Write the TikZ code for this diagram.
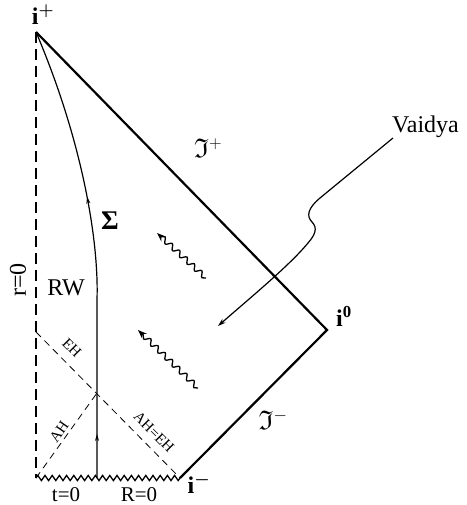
\documentclass[tikz,border=0pt]{standalone}
\usepackage{amsmath,amssymb}
\usepackage{fontspec}
\setmainfont{Liberation Serif}
\usetikzlibrary{arrows.meta,decorations.pathmorphing,decorations.markings}

\begin{document}
\begin{tikzpicture}[x=1pt,y=-1pt,>=Stealth,
   scri/.style={line width=2.2pt,line join=miter},
   wl/.style={line width=1.2pt},
   hz/.style={line width=0.8pt,dash pattern=on 7pt off 5pt},
   lbl/.style={font=\fontsize{24}{26}\selectfont,inner sep=1pt},
   bot/.style={font=\fontsize{21}{23}\selectfont,inner sep=1pt},
   sml/.style={font=\fontsize{15}{17}\selectfont,inner sep=0pt},
   wave/.style={line width=1.3pt,->,decorate,
      decoration={snake,amplitude=2.6pt,segment length=10pt,post length=4pt}}]
  \useasboundingbox (0,0) rectangle (466,505);
  % corners of the diagram
  \coordinate (ip) at (36,32);
  \coordinate (io) at (327,330);
  \coordinate (im) at (180,478);
  \coordinate (bl) at (36,478);
  \coordinate (eh) at (36,332);
  \coordinate (hx) at (97,393);
  \coordinate (wb) at (97,478);
  % scri lines, origin and singularity
  \draw[scri] (ip) -- (io) -- (im);
  \draw[line width=2pt,dash pattern=on 11pt off 6pt] (ip) -- (bl);
  \draw[line width=1.3pt,decorate,decoration={zigzag,amplitude=2.6pt,segment length=7.2pt}] (bl) -- (im);
  % horizons
  \draw[hz] (eh) -- (im);
  \draw[hz] (bl) -- (hx);
  % worldline Sigma
  \draw[wl,postaction={decorate},decoration={markings,
      mark=at position 44pt with {\arrow{Stealth[length=7pt,width=4pt]}},
      mark=at position 282pt with {\arrow{Stealth[length=7pt,width=4pt]}}}]
     (wb) -- (97,300) .. controls (99,240) and (82,140) .. (ip);
  % infalling radiation
  \draw[wave] (206,278) -- (157,233);
  \draw[wave] (198,388) -- (138,330);
  % Vaidya pointer
  \node[lbl,anchor=base west] (vd) at (391,133) {Vaidya};
  \draw[wl,->,>={Stealth[length=8pt,width=5pt]}] (393,138) -- (320,198)
     .. controls (308,208) and (306,216) .. (312,222)
     .. controls (318,228) and (315,235) .. (308,243)
     .. controls (290,265) and (250,298) .. (218,326);
  % labels
  \node[lbl] (lip) at (43,15) {\textbf{i}$^{\boldsymbol{+}}$};
  \node[lbl] (lio) at (344,316) {\textbf{i}$^{\mathbf{0}}$};
  \node[lbl] (lim) at (199,484) {\textbf{i}$^{\boldsymbol{-}}$};
  \node[lbl,font=\fontsize{27}{29}\selectfont] (sp) at (208,148) {$\mathfrak{I}^{+}$};
  \node[lbl,font=\fontsize{27}{29}\selectfont] (sm) at (273,420) {$\mathfrak{I}^{-}$};
  \node[lbl,font=\fontsize{27}{29}\selectfont] (sg) at (110,221) {\textbf{Σ}};
  \node[lbl] (rw) at (66,288) {RW};
  \node[lbl,rotate=90] (r0) at (18,280) {r=0};
  \node[bot] (t0) at (66,495) {t=0};
  \node[bot] (R0) at (139,495) {R=0};
  \node[sml,rotate=-45] (leh) at (72,348) {EH};
  \node[sml,rotate=55] (lah) at (59,432) {AH};
  \node[sml,rotate=-45] (lae) at (154,432) {AH=EH};
\end{tikzpicture}
\end{document}
